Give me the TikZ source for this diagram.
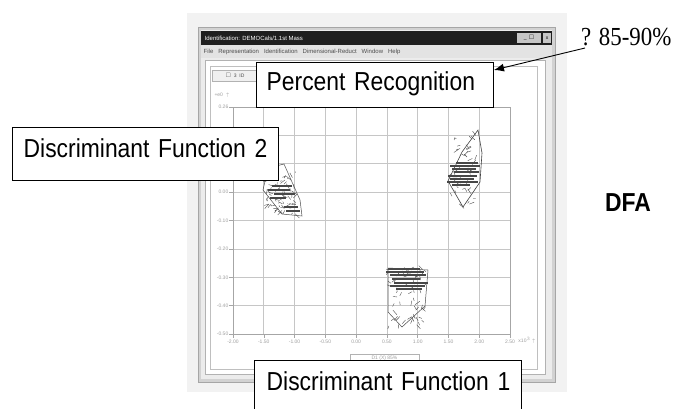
\documentclass[tikz,border=0pt]{standalone}
\usepackage{amssymb}
\usepackage{fontspec}
\setmainfont{Liberation Sans}
\newfontfamily\boxfont[FakeStretch=0.88]{Liberation Sans}
\newfontfamily\pctfont[FakeStretch=0.88]{Liberation Serif}
\usetikzlibrary{arrows.meta}
\newcommand\scribble[6]{% x0 y0 w h n seed
  \pgfmathsetseed{#6}
  \foreach \k in {1,...,#5}{
    \pgfmathsetmacro\xa{#1+#3*rnd}\pgfmathsetmacro\ya{#2+#4*rnd}
    \pgfmathsetmacro\xb{\xa+10*(rnd-0.5)}\pgfmathsetmacro\yb{\ya+10*(rnd-0.5)}
    \draw[black!70,line width=0.4pt] (\xa,\ya) -- (\xb,\yb);
  }}
\begin{document}
\begin{tikzpicture}[x=1pt,y=-1pt,
  lblbox/.style={draw=black,line width=1.4pt,fill=white,inner sep=0pt,align=left,
     font=\boxfont\fontsize{26}{30}\selectfont,anchor=north west},
  grd/.style={draw=gray!45,line width=0.7pt},
  dots/.style={draw=black!72,line width=1.3pt},
  ticklbl/.style={font=\fontsize{5}{6}\selectfont,text=gray!75,inner sep=0.5pt},
  tiny/.style={font=\fontsize{5}{6}\selectfont,inner sep=0.5pt}]
\useasboundingbox (0,0) rectangle (675,408);
% screenshot background
\fill[gray!10] (187,13) rectangle (567,392);
% window frame
\draw[gray!70,fill=gray!35,line width=0.8pt] (198,27) rectangle (555,382);
\fill[gray!15] (201,30) rectangle (552,379);
% title bar
\fill[black!88] (201,31) rectangle (552,45);
\node[tiny,text=white,anchor=west] (title) at (204,38) {\fontsize{6}{7}\selectfont Identification: DEMOCals/1.1st Mass};
\fill[gray!45] (517,33) rectangle (541,43);
\fill[gray!45] (543,33) rectangle (551,43);
\node[tiny,text=black] (btns) at (529,38) {\_ \,$\square$};
\node[tiny,text=black] (btnx) at (547,38) {x};
% menu bar
\fill[gray!22] (201,45) rectangle (552,58);
\node[tiny,text=black!70,anchor=west] (menu) at (203,52) {\fontsize{6}{7}\selectfont File \ \ Representation \ \ Identification \ \ Dimensional-Reduct \ \ Window \ \ Help};
% client area
\draw[gray!60,fill=white] (205,60) rectangle (545,374);
\draw[gray!50] (210,66) rectangle (537,369);
% tab
\draw[gray!60,fill=gray!12] (212,70) rectangle (258,81);
\node[tiny,text=black!70] (tab) at (235,75.5) {$\square$ \ 3 \ ID};
% grid
\foreach \i in {0,...,9}{ \draw[grd] (233+30.78*\i,107) -- (233+30.78*\i,334); }
\foreach \j in {0,...,8}{ \draw[grd] (233,107+28.38*\j) -- (510,107+28.38*\j); }
\draw[gray!70,line width=0.8pt] (233,107) rectangle (510,334);
% ticks and labels (those at rows 1 and 2 lie under the box and are not seen)
\foreach \j in {0,...,8}{ \draw[gray!70] (229,107+28.38*\j) -- (233,107+28.38*\j); }
\foreach \v/\j in {0.26/0,0.00/3,-0.10/4,-0.20/5,-0.30/6,-0.40/7,-0.50/8}{
  \node[ticklbl,anchor=east] (yl\j) at (229,107+28.38*\j) {\v};}
\foreach \v [count=\i from 0] in {-2.00,-1.50,-1.00,-0.50,0.00,0.50,1.00,1.50,2.00,2.50}{
  \draw[gray!70] (233+30.78*\i,334) -- (233+30.78*\i,338);
  \node[ticklbl,anchor=north] (xl\i) at (233+30.78*\i,339) {\v};}
\node[ticklbl] (ye) at (222,95) {+e0 \ $\uparrow$};
\node[ticklbl] (xe) at (527,340) {x10$^3$ $\uparrow$};
\draw[gray!60,fill=white] (350,354) rectangle (419,364);
\node[ticklbl] (xlab) at (384.5,358) {D1 (X) 85\%};
% clusters
\scribble{266}{170}{30}{45}{70}{3}
\foreach \yy/\xa/\xb in {186/272/292,190/268/290,194/274/295,198/270/286,207/284/298,211/286/300}
  {\draw[dots] (\xa,\yy) -- (\xb,\yy);}
\draw[black!70,line width=0.5pt] (268,168) -- (284,164) -- (300,200) -- (302,216) -- (282,214) -- (263,190) -- cycle;
\draw[black!75,line width=0.6pt] (478,130) -- (482,153) -- (480,182) -- (463,207) -- (448,181) -- (462,152) -- cycle;
\foreach \yy/\xa/\xb in {163/456/478,166/450/480,169/452/476,172/454/479,176/448/477,179/450/474,182/447/478,185/452/470}
  {\draw[dots] (\xa,\yy) -- (\xb,\yy);}
\scribble{452}{135}{26}{70}{45}{11}
\foreach \yy/\xa/\xb in {269/388/420,272/386/424,275/390/426,279/392/420,283/394/428,286/390/425,289/396/422}
  {\draw[dots] (\xa,\yy) -- (\xb,\yy);}
\draw[black!70,line width=0.5pt] (388,268) -- (428,270) -- (425,306) -- (402,327) -- (388,312) -- cycle;
\scribble{386}{268}{40}{58}{60}{17}
% label boxes
\node[lblbox,text height=28pt,text depth=17pt,inner xsep=10pt,text width=217pt] (pr) at (256,62) {\mbox{Percent Recognition}};
\node[lblbox,text height=30pt,text depth=23pt,inner xsep=11pt,text width=244pt] (df2) at (12,127) {\mbox{Discriminant Function 2}};
\node[lblbox,text height=30pt,text depth=30pt,inner xsep=12pt,text width=243pt] (df1) at (254,360) {\mbox{Discriminant Function 1}};
% annotation
\node[anchor=base west,inner sep=0pt,font=\pctfont\fontsize{26}{30}\selectfont] (pct) at (581,45) {? 85-90\%};
\coordinate (astart) at (585,48);
\coordinate (atip) at (494,70);
\draw[line width=0.9pt,-{Latex[length=10pt,width=8pt]}] (astart) -- (atip);
\node[anchor=base west,inner sep=0pt,font=\boxfont\bfseries\fontsize{26}{30}\selectfont] (dfa) at (605,211) {DFA};
\end{tikzpicture}
\end{document}
